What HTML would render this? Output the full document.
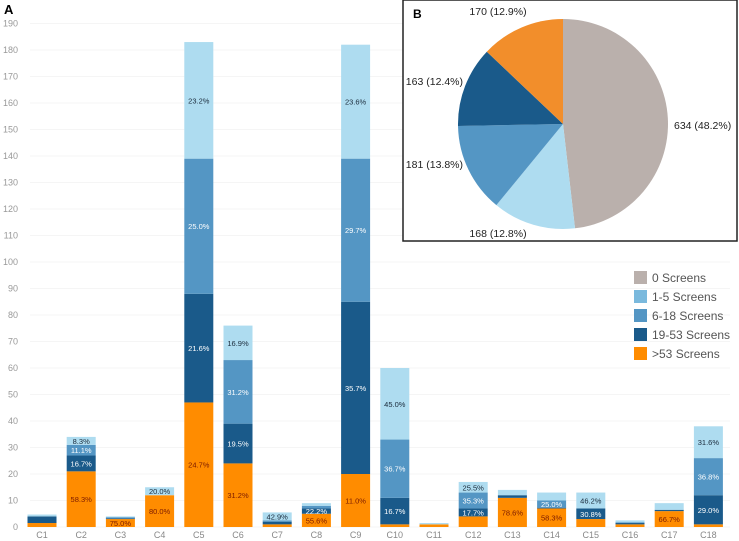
<!DOCTYPE html>
<html><head><meta charset="utf-8"><style>
body{margin:0;background:#fff;font-family:"Liberation Sans",sans-serif;}
svg{display:block}
</style></head><body>
<svg id="chart" width="739" height="541" xmlns="http://www.w3.org/2000/svg">
<text x="4" y="14" font-size="13" font-weight="bold">A</text>
<g id="grid"></g><g id="bars"></g><g id="xlabels"></g>
<rect x="403" y="0" width="334" height="241" fill="#fff" stroke="#222" stroke-width="1.5"/>
<text x="413" y="18" font-size="12" font-weight="bold">B</text>
<g id="pie"></g>
<g id="legend"></g>
</svg>
<script>
const categories=["C1","C2","C3","C4","C5","C6","C7","C8","C9","C10","C11","C12","C13","C14","C15","C16","C17","C18"];
const over53=[1.5,21,3,12,47,24,1,5,20,1,1,4,11,7,3,1,6,1];
const s19to53=[2.5,6,0.3,0,41,15,1,2,65,10,0,3,1,0.3,4,0.5,0.5,11];
const s6to18=[0,4,0.4,0,51,24,0.5,1,54,22,0,6,0,2.7,0,0.3,0,14];
const s1to5=[0.7,3,0.3,3,44,13,3,1,43,27,0.5,4,2,3,6,0.7,2.5,12];
const lblOver53=["","58.3%","75.0%","80.0%","24.7%","31.2%","","55.6%","11.0%","","","","78.6%","58.3%","","","66.7%",""];
const lbl19=["","16.7%","","","21.6%","19.5%","","22.2%","35.7%","16.7%","","17.7%","","","30.8%","","","29.0%"];
const lbl6=["","11.1%","","","25.0%","31.2%","","","29.7%","36.7%","","35.3%","","25.0%","","","","36.8%"];
const lbl1=["","8.3%","","20.0%","23.2%","16.9%","42.9%","","23.6%","45.0%","","25.5%","","","46.2%","","","31.6%"];
const yTicks=[0,10,20,30,40,50,60,70,80,90,100,110,120,130,140,150,160,170,180,190];
const pieValues=[634,168,181,163,170];
const pieLabels=["634 (48.2%)","168 (12.8%)","181 (13.8%)","163 (12.4%)","170 (12.9%)"];
const legendLabels=["0 Screens","1-5 Screens","6-18 Screens","19-53 Screens",">53 Screens"];
const NS="http://www.w3.org/2000/svg";
const C={gray:"#bab0ac",l:"#aedcf0",m:"#5496c4",d:"#1a5a8a",o:"#ff8c00"};
const y=v=>527-v*2.65;
const xc=i=>42+i*39.2;
function mk(t,a,p){const e=document.createElementNS(NS,t);for(const k in a)e.setAttribute(k,a[k]);p.appendChild(e);return e;}
const grid=document.getElementById('grid');
yTicks.forEach(t=>{
 const l=mk('line',{x1:30,x2:730,y1:y(t),y2:y(t),stroke:"#f5f5f5"},grid);
 
 
 const tx=mk('text',{x:18,y:y(t)+3,'font-size':9,fill:"#999",'text-anchor':'end'},grid);
 tx.textContent=t;
 
 
});
const bars=document.getElementById('bars');
const series=[[over53,C.o,lblOver53,"#7a1a00"],[s19to53,C.d,lbl19,"#fff"],[s6to18,C.m,lbl6,"#fff"],[s1to5,C.l,lbl1,"#1a2a3a"]];
categories.forEach((c,i)=>{
 let base=0;
 series.forEach(([vals,col,lbls,tc])=>{
  const v=vals[i];
  if(v>0){
   const r=mk('rect',{x:xc(i)-14.5,y:y(base+v),width:29,height:v*2.65,fill:col},bars);
   
   
   if(lbls[i]){
    const t=mk('text',{x:xc(i),y:y(base+v/2)+3,'font-size':7.5,fill:tc,'text-anchor':'middle'},bars);
    t.textContent=lbls[i];
    
    
   }
  }
  base+=v;
 });
 const xl=mk('text',{x:xc(i),y:538,'font-size':9,fill:"#888",'text-anchor':'middle'},document.getElementById('xlabels'));
 xl.textContent=c;
 
 
});
const pie=document.getElementById('pie');
const cx=563,cy=124,R=105,pcols=[C.gray,C.l,C.m,C.d,"#f28e2b"];
const tot=pieValues.reduce((a,b)=>a+b,0);
let ang=0;
const lpos=[[674,129,'start'],[498,237,'middle'],[463,168,'end'],[463,85,'end'],[498,15,'middle']];
pieValues.forEach((v,i)=>{
 const a0=ang,a1=ang+v/tot*2*Math.PI;ang=a1;
 const p=(a)=>[cx+R*Math.sin(a),cy-R*Math.cos(a)];
 const [x0,y0]=p(a0),[x1,y1]=p(a1);
 const s=mk('path',{d:`M${cx},${cy}L${x0},${y0}A${R},${R} 0 ${a1-a0>Math.PI?1:0} 1 ${x1},${y1}Z`,fill:pcols[i]},pie);
 
 
 const t=mk('text',{x:lpos[i][0],y:lpos[i][1],'font-size':10.5,fill:"#222",'text-anchor':lpos[i][2]},pie);
 t.textContent=pieLabels[i];
 
 
});
const lg=document.getElementById('legend');
legendLabels.forEach((l,i)=>{
 const yy=271+i*19;
 const r=mk('rect',{x:634,y:yy,width:13,height:13,fill:[C.gray,"#7ab9dd",C.m,C.d,C.o][i]},lg);
 
 
 const t=mk('text',{x:652,y:yy+11,'font-size':12,fill:"#555"},lg);
 t.textContent=l;
 
 
});
</script>
</body></html>
